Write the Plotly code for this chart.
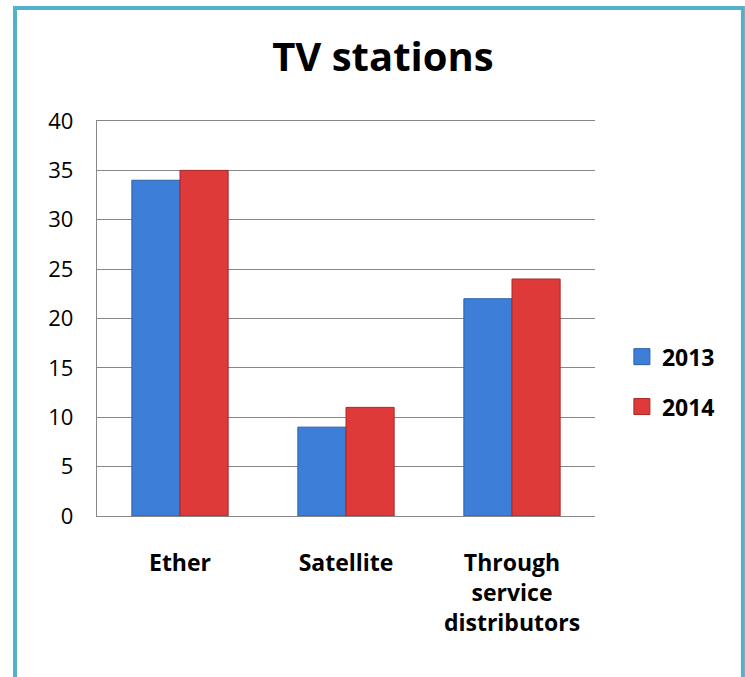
import plotly.graph_objects as go

categories = ["Ether", "Satellite", "Through<br>service<br>distributors"]
years = ["2013", "2014"]
values_2013 = [34, 9, 22]
values_2014 = [35, 11, 24]
y_ticks = [0, 5, 10, 15, 20, 25, 30, 35, 40]

FONT = "Open Sans"
GRID = "#878787"
series = [
    (years[0], values_2013, "#3D7FD8", "#2A5FA8"),
    (years[1], values_2014, "#DE3A3A", "#A82626"),
]

fig = go.Figure()
for name, vals, fill, edge in series:
    fig.add_trace(go.Bar(
        x=categories, y=vals, name=name, showlegend=False,
        marker=dict(color=fill, line=dict(color=edge, width=1)),
    ))
# legend keys drawn as larger squares
for name, vals, fill, edge in series:
    fig.add_trace(go.Scatter(
        x=[None], y=[None], mode="markers", name=f"<b>{name}</b>",
        legendgroup=name,
        marker=dict(symbol="square", size=17, color=fill,
                    line=dict(color=edge, width=1)),
    ))

fig.update_layout(
    width=745, height=677,
    margin=dict(l=97, r=150, t=121, b=161),
    paper_bgcolor="white", plot_bgcolor="white",
    barmode="group", bargap=0.42, bargroupgap=0,
    font=dict(family=FONT, color="black", size=22),
    title=dict(text="<b>TV stations</b>", x=0.514, xanchor="center",
               y=0.916, yanchor="middle", font=dict(size=40, family=FONT)),
    legend=dict(x=1.054, y=0.34, xanchor="left", yanchor="middle",
                traceorder="grouped", tracegroupgap=17,
                font=dict(size=23, family=FONT)),
    showlegend=True,
)

fig.update_yaxes(range=[0, 40], tickvals=y_ticks, showgrid=True,
                 gridcolor=GRID, gridwidth=1.3, zeroline=False,
                 showline=True, linecolor=GRID, linewidth=1.3,
                 ticks="", ticklabelstandoff=18,
                 tickfont=dict(size=22, family=FONT))
fig.update_xaxes(showline=True, linecolor=GRID, linewidth=1.3, mirror=True,
                 ticks="", ticklabelstandoff=26,
                 tickfont=dict(size=23, family=FONT),
                 tickvals=categories,
                 ticktext=[f"<b>{c}</b>" for c in categories])

# outer frame around the chart
fig.add_shape(type="rect", xref="paper", yref="paper",
              x0=-0.1647, x1=1.297, y0=-0.6, y1=1.286,
              line=dict(color="#52B1CB", width=4), layer="below")

fig.write_html("out.html")
